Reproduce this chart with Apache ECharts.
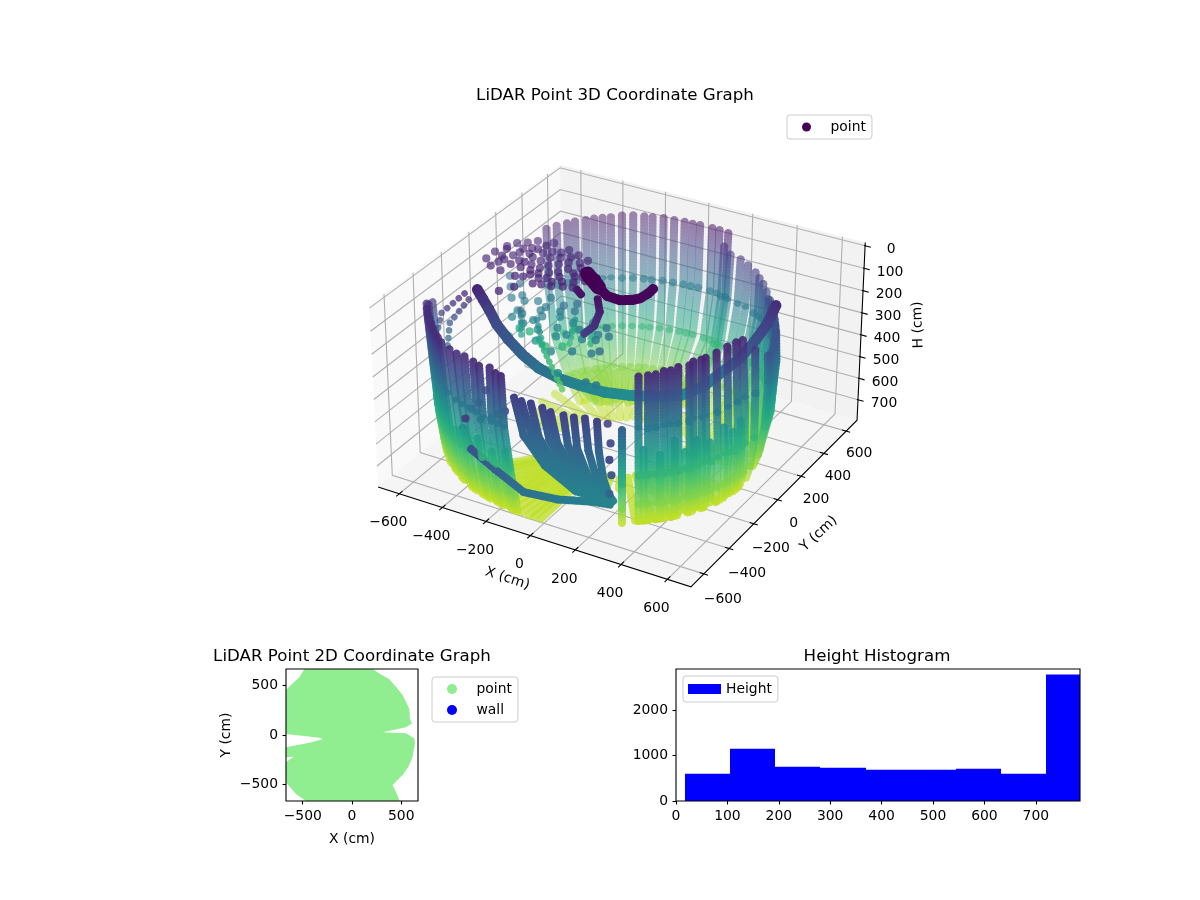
<!DOCTYPE html>
<html><head><meta charset="utf-8">
<style>html,body{margin:0;padding:0;background:#fff}#c{width:1200px;height:900px}</style>
<script src="https://cdn.jsdelivr.net/npm/echarts@6/dist/echarts.min.js"></script>
</head><body><div id="c"></div>
<script>
// ---------- data (cm) ----------
const xTicks=[-600,-400,-200,0,200,400,600];
const yTicks=[-600,-400,-200,0,200,400,600];
const hTicks=[0,100,200,300,400,500,600,700];
const xLim=[-700,700], yLim=[-700,700], hLim=[-14,796];
// wall scans: azimuth deg, top H, radius at top, radius at each of scanLevels
const scanLevels=[350,550,680,750];
const backScans=[[148,88,650,640,585,470,360],[144,84,650,640,590,475,365],[140,82,650,642,590,480,370],[137,80,652,640,592,480,370],[133,78,650,642,595,485,375],[130,76,652,644,592,485,380],[127,74,650,642,595,490,375],[124,72,648,644,596,490,380],[120,66,650,642,598,488,382],[116,66,652,644,596,492,380],[112,67,650,642,598,490,385],[109,68,650,640,596,494,380],[105,68,652,642,600,490,385],[101,69,650,640,596,492,382],[97,68,648,642,598,494,385],[94,70,650,640,600,490,380],[91,68,650,642,596,488,385],[86,66,650,640,598,490,380],[83,66,652,640,595,488,378],[79,64,650,638,592,486,375]];
const rightScans=[[80,125,640,625,585,500,400],[77,150,640,625,585,505,410],[72,150,640,628,590,510,420],[68,159,640,630,590,515,430],[63,165,635,630,592,520,440],[60,175,632,628,592,522,445],[57,185,630,625,592,525,450],[54,205,628,622,590,528,455],[52,226,625,620,590,530,460],[47,200,610,612,585,530,470],[45,205,608,612,585,532,474],[42,210,605,610,585,535,480],[40,212,604,608,585,537,484],[37,215,600,606,585,540,490],[35,218,600,606,585,542,494],[32,220,598,604,585,545,500],[30,220,598,604,586,547,504],[27,225,600,604,588,550,510],[25,225,600,604,588,552,514],[22,230,598,602,590,555,520],[20,230,598,602,590,557,524],[17,235,600,604,590,560,530],[13,240,600,604,592,565,540],[9,230,600,604,594,570,545],[0,160,585,590,590,575,555]];
const frontRightScans=[[-5.3,101,560,575,580,575,560],[-9.7,92,560,572,580,574,562],[-15,89,560,570,578,575,565],[-20.7,94,560,570,578,575,568],[-26,99,560,568,578,576,570],[-28,101,560,568,576,576,570],[-31.6,99,560,566,576,574,572],[-33.3,110,560,566,576,574,572],[-38,107,560,565,575,575,574],[-41,115,560,565,575,575,575],[-43.8,114,560,565,574,575,576],[-47,123,560,565,574,576,576],[-50,124,560,564,574,576,578],[-53.7,126,560,564,574,576,578]];
const frontLeftScans=[[-60,272,700,690,650,610,590],[-98.6,120,722,710,680,655,645],[-101.5,125,712,705,680,657,647],[-104.7,120,703,700,680,660,650],[-107.7,120,723,710,685,665,650],[-110.8,120,720,710,690,670,655],[-115,120,723,712,695,675,660],[-117.7,120,737,720,700,680,665],[-121,120,745,725,705,685,670],[-126,120,751,730,710,690,675],[-129,120,750,732,712,692,678],[-131.6,120,750,735,715,695,680],[-134.6,120,750,735,718,698,685],[-137.7,120,748,735,720,700,690],[-141,120,750,737,722,704,693],[-144,120,754,738,723,706,696],[-147,120,756,739,724,708,698],[-150,120,758,740,725,710,700],[-153,145,755,740,726,712,702],[-158,170,750,740,728,715,705]];
// return arms of the looped scans: azimuth, top H, radius at top, radius at H 550, 680, 750
const returnArms=[[-51.8,440,570,574,576,578],[-45.4,470,570,574,575,576],[-39.5,420,568,575,575,575],[-35,480,568,575,574,572],[-30,440,568,576,575,571],[-24,470,568,578,576,570],[-17,430,570,578,575,566],[-12,470,572,580,574,563],[-7.5,440,574,580,575,561],[-100,470,690,680,658,646],[-106,500,690,682,662,650],[-112,470,700,692,672,657],[-119,480,712,702,682,667],[-124,500,718,708,688,672],[-133,470,726,716,697,682],[-143,480,730,722,705,695]];
// scan pairs that join at the floor (azimuths)
const joinedScans=[[-53.7,-50],[-47,-43.8],[-41,-38],[-33.3,-31.6],[-28,-26],[-20.7,-15],[-9.7,-5.3],[-98.6,-101.5],[-104.7,-107.7],[-110.8,-115],[-117.7,-121],[-126,-129],[-131.6,-134.6],[-137.7,-141]];
// floor sweeps: azimuth deg, outer radius, inner radius, H
const floorSweeps=[[-130,670,300,745],[-128,665,300,748],[-125,660,300,745],[-122,655,290,750],[-118,650,280,748],[-115,650,275,750],[-112,650,270,750],[-109,645,265,752],[-106,640,260,750],[-103,640,255,748],[-100,640,250,752],[-97,640,250,750],[-94,640,250,752],[-91.5,640,245,748],[-89,640,240,750],[-82,350,240,752],[-76,340,240,750],[-70,340,250,748],[-62,340,250,750],[-55,575,250,750],[-48,575,240,748],[-41,575,250,752],[-34,572,250,750],[-27,570,260,750],[-20,568,260,748],[-12,560,260,750],[10,520,260,745],[20,510,260,748],[30,490,260,750],[40,470,260,750],[50,450,250,752],[60,440,240,750],[70,410,230,752],[85,380,200,755],[92,385,200,752],[100,385,200,755],[108,385,200,752],[115,382,200,755],[122,380,200,752],[130,378,200,755],[137,372,200,752],[145,365,210,755],[155,480,250,752],[165,460,250,750],[175,440,260,750],[185,420,260,748]];
// lower bowl of the back wall: azimuth deg, outer radius, inner radius, H
const bowlSweeps=[[81,470,230,690],[85,472,230,695],[88,474,225,688],[92,476,225,692],[96,474,225,690],[100,476,225,695],[103,474,225,688],[107,476,225,692],[110,474,225,690],[114,476,225,695],[118,474,225,688],[122,472,225,692],[126,470,225,690],[129,470,225,695],[132,468,225,688],[135,466,230,692],[139,462,230,690],[142,458,230,695],[146,455,235,688]];
// fan of scans sweeping to the front: shared H and colour value, then x,y pairs
const fanH=[180,420,560,620,640];
const fanV=[180,280,340,370,390];
const fanPaths=[[-38,-736,-77,-612,-13,-565,131,-580,265,-553],[0,-745,-50,-597,11,-551,148,-570,269,-551],[39,-742,-18,-597,38,-554,162,-563,269,-551],[92,-748,24,-590,69,-545,175,-555,272,-550],[134,-759,63,-596,101,-545,193,-554,272,-550],[188,-756,105,-590,133,-544,206,-546,272,-550],[229,-750,147,-592,165,-545,224,-544,275,-548],[268,-736,192,-585,196,-536,242,-543,275,-548],[318,-734,230,-572,228,-536,252,-538,279,-546]];
// rings and strands: [x, y, H, colour value]
const ringA=[[-538,-198,110,110],[-504,-210,140,140],[-471,-221,170,170],[-415,-255,205,205],[-346,-281,240,240],[-274,-295,280,280],[-203,-293,320,320],[-122,-277,350,350],[-53,-239,380,380],[43,-207,400,400],[131,-164,410,410],[221,-125,408,408],[310,-81,400,400],[380,-30,365,365],[425,33,320,320],[472,79,275,275],[499,140,230,230],[519,223,175,175],[513,312,130,130]];
const ringB=[[-400,-540,520,170],[-287,-657,520,220],[-158,-685,560,270],[-35,-685,620,320],[87,-638,640,350],[207,-587,640,370],[283,-569,640,380]];
const ringC=[[-106,-19,30,20],[-53,-81,30,25],[5,-119,30,28],[62,-123,30,30],[103,-99,30,32],[122,-71,30,35],[129,-20,30,38],[127,23,30,40]];
const ringF=[[-154,-1,30,20],[-53,-81,30,20]];
const ringD=[[-554,-265,100,110],[-648,-290,200,170],[-677,-279,290,270]];
const ringE=[[-544,-252,130,130],[-617,-281,240,230],[-617,-305,350,340]];
const spokeA=[[-100,-16,120,60],[-41,-101,120,90],[-3,-208,120,130],[-5,-282,120,170]];
const spokeB=[[-211,12,120,70],[-163,-24,120,60]];
const strands=[[[-441,-38,250,300],[-334,-206,250,480]],[[-343,-74,250,380],[-197,-264,250,520]],[[-214,1,250,430],[-132,-180,250,560]],[[-146,40,250,430],[-44,-176,250,560]],[[-254,-205,250,500],[30,-499,250,640]]];
// scattered returns: [x, y] at H 90; [x, y, colour value] at H 250; [x, y, H, colour value]
const looseHigh=[[-627,9],[-628,76],[-611,140],[-590,182],[-556,208],[-528,240],[-478,223],[-462,256],[-429,190],[-374,160],[-379,235],[-323,215],[-267,193],[-561,38],[-549,85],[-544,154],[-473,110],[-429,99],[-381,80],[-579,-34],[-525,-48],[-518,17],[-470,14],[-423,11],[-382,4],[-333,-14],[-321,54],[-326,143],[-263,73],[-450,-60],[-420,-49],[-357,-79],[-324,-69],[-283,-62],[-242,-43],[-244,53],[-406,-138],[-439,-197],[-600,120],[-585,60],[-570,10],[-540,120],[-515,175],[-505,60],[-500,130],[-490,180],[-455,160],[-445,55],[-410,140],[-400,45],[-395,200],[-352,110],[-348,30],[-340,185],[-300,95],[-295,20],[-285,160],[-260,125],[-235,100],[-225,10],[-215,65],[-205,-30],[-190,40],[-480,60],[-405,-20],[-360,-30],[-300,-30],[-265,-10]];
const looseMid=[[-630,186,300],[-579,109,320],[-526,31,340],[-468,35,360],[-450,-46,380],[-441,-102,380],[-376,-125,390],[-371,-1,350],[-390,110,320],[-277,-8,380],[-355,-83,390],[-367,32,340],[-312,79,300],[-273,117,280],[-206,-26,330],[-126,-58,340],[-138,13,300],[-209,-151,400],[-181,-120,380],[-72,4,310],[-74,-58,330],[-165,-263,390],[-55,-393,420],[-94,-222,350],[-21,-199,340],[-2,-169,300],[73,-401,360],[119,-402,350],[-560,150,300],[-500,70,330],[-420,60,340],[-340,-40,360],[-300,30,330],[-250,60,310],[-240,-90,370],[-160,-60,350],[-110,-120,370],[-60,-100,340],[-30,-50,320],[-420,-60,370],[-300,-140,400],[-260,-220,440]];
const looseLow=[[-368,-243,520],[-367,-166,500],[-319,-169,530],[-203,-240,560],[-147,-207,540]];
const looseFront=[[172,-407,400,170],[254,-526,400,190],[310,-631,400,200],[306,-609,480,230],[317,-644,540,280],[-336,-572,400,150],[-317,-644,400,150],[-262,-622,400,150],[-232,-595,400,150],[-224,-554,400,150],[-216,-522,400,150],[-363,-424,400,150],[-336,-518,400,150]];
// 2D footprint outline
const outlineX=[-483,210,277,379,446,514,581,588,608,548,311,548,632,639,615,575,514,412,446,480,485,-467,-568,-663,-670,-670,-592,-670,-670,-433,-297,-331,-670,-670,-585,-534];
const outlineY=[670,670,625,565,490,406,270,169,118,78,27,17,-34,-85,-220,-321,-406,-507,-575,-659,-670,-670,-598,-490,-490,-274,-220,-226,-125,-78,-44,-27,10,456,541,585];
const plan2dTicks=[-500,0,500];
// histogram
const binEdges=[17.5,105,192.6,280,370,457,545,632,720,807];
const binCounts=[603,1155,758,736,692,692,714,603,2789];
const histXTicks=[0,100,200,300,400,500,600,700];
const histYTicks=[0,1000,2000];

// ---------- matplotlib-style 3D view ----------
const font='DejaVu Sans', fs=13.9, ts=16.67;
const e=30*Math.PI/180, a=-60*Math.PI/180;
const w=[Math.cos(e)*Math.cos(a),Math.cos(e)*Math.sin(a),Math.sin(e)];
const nu=Math.hypot(w[1],w[0]);
const u=[-w[1]/nu,w[0]/nu,0];
const v=[w[1]*u[2]-w[2]*u[1],w[2]*u[0]-w[0]*u[2],w[0]*u[1]-w[1]*u[0]];
const halfXY=0.595, halfH=0.35, Sx=2997, Sy=2966, X0=622, Y0=364.6;
const hMid=(hLim[0]+hLim[1])/2, hHalf=(hLim[1]-hLim[0])/2;
function proj(x,y,h){
  const d=[x/700*halfXY,y/700*halfXY,(hMid-h)/hHalf*halfH];
  const dot=(p)=>p[0]*d[0]+p[1]*d[1]+p[2]*d[2];
  const depth=10-dot(w);
  return [dot(u)/depth,dot(v)/depth,depth];
}
const vir=['#440154','#482475','#414487','#355f8d','#2a788e','#21918c','#22a884','#44bf70','#7ad151','#bddf26','#fde725'];
const rgb=c=>[1,3,5].map(i=>parseInt(c.substr(i,2),16));
function colorOf(val){
  let t=Math.max(0,Math.min(1,(val-20)/810))*10, i=Math.min(9,Math.floor(t)), f=t-i;
  const A=rgb(vir[i]),B=rgb(vir[i+1]);
  return 'rgb('+A.map((q,k)=>Math.round(q+(B[k]-q)*f)).join(',')+')';
}
const marks=[];
function seg(p,q,lw,solid,gap){marks.push({p:proj(p[0],p[1],p[2]),q:proj(q[0],q[1],q[2]),vp:p[3],vq:q[3],lw:lw||8.3,solid:!!solid,gap:gap||3});}
function pol(t,r,h){const c=t*Math.PI/180;return [r*Math.cos(c),r*Math.sin(c),h,h];}
const scanBottom={};
[backScans,rightScans,frontRightScans,frontLeftScans].forEach(list=>list.forEach(s=>{
  let prev=pol(s[0],s[2],s[1]);
  scanLevels.forEach((h,i)=>{const n=pol(s[0],s[3+i],h);seg(prev,n);prev=n;});
  scanBottom[s[0]]=prev;
}));
returnArms.forEach(s=>{
  let prev=pol(s[0],s[2],s[1]);
  [550,680,750].forEach((h,i)=>{const n=pol(s[0],s[3+i],h);seg(prev,n);prev=n;});
});
joinedScans.forEach(j=>seg(scanBottom[j[0]],scanBottom[j[1]]));
floorSweeps.concat(bowlSweeps).forEach(f=>seg(pol(f[0],f[1],f[3]),pol(f[0],f[2],f[3])));
function path(list,lw,solid,gap){for(let i=0;i<list.length-1;i++)seg(list[i],list[i+1],lw,solid,gap);}
fanPaths.forEach(f=>{
  const pts=fanH.map((h,i)=>[f[2*i],f[2*i+1],h,fanV[i]]);
  path(pts,8,true,2.5);
});
path(ringA,11,true,2.5);path(ringB,8,true,2.5);path(ringC,10,true,2);path(ringF,15,true,2);path(ringD,6.5,false,7.5);path(ringE,6.5,false,7.5);path(spokeA,8,true,3);path(spokeB,8,true,3);
strands.forEach(s=>path(s,6.5,false,6));
const dot=(x,y,h,c)=>seg([x,y,h,c],[x,y,h,c]);
looseHigh.forEach(d=>dot(d[0],d[1],90,100));
looseMid.forEach(d=>dot(d[0],d[1],250,d[2]));
looseLow.forEach(d=>dot(d[0],d[1],250,d[2]));
looseFront.forEach(d=>dot(d[0],d[1],d[2],d[3]));
marks.forEach(m=>m.d=(m.p[2]+m.q[2])/2);
marks.sort((s,t)=>t.d-s.d);
const dMin=marks[marks.length-1].d, dMax=marks[0].d;
marks.forEach(m=>m.alpha=m.solid?1:Math.max(.5,1-(m.d-dMin)/(dMax-dMin)*.55));

// box, grid, ticks
const [xa,xb]=xLim,[ya,yb]=yLim,ht=hLim[0],hb=hLim[1];
const P=(x,y,h)=>proj(x,y,h).slice(0,2);
const panes=[
 {pts:[P(xa,ya,hb),P(xa,yb,hb),P(xa,yb,ht),P(xa,ya,ht)],fill:'#f9f9f9'},
 {pts:[P(xa,yb,hb),P(xb,yb,hb),P(xb,yb,ht),P(xa,yb,ht)],fill:'#f2f2f2'},
 {pts:[P(xa,ya,hb),P(xb,ya,hb),P(xb,yb,hb),P(xa,yb,hb)],fill:'#f5f5f5'}];
const guides=[];
xTicks.forEach(t=>guides.push({pts:[P(t,ya,hb),P(t,yb,hb),P(t,yb,ht)],c:'#b0b0b0'}));
yTicks.forEach(t=>guides.push({pts:[P(xb,t,hb),P(xa,t,hb),P(xa,t,ht)],c:'#b0b0b0'}));
hTicks.forEach(t=>guides.push({pts:[P(xa,ya,t),P(xa,yb,t),P(xb,yb,t)],c:'#b0b0b0'}));
guides.push({pts:[P(xa,ya,hb),P(xb,ya,hb),P(xb,yb,hb),P(xb,yb,ht)],c:'#000'});
xTicks.forEach(t=>guides.push({pts:[P(t,ya-22,hb),P(t,ya+22,hb)],c:'#000'}));
yTicks.forEach(t=>guides.push({pts:[P(xb-18,t,hb),P(xb+18,t,hb)],c:'#000'}));
hTicks.forEach(t=>guides.push({pts:[P(xb-5,yb,t),P(xb+25,yb,t)],c:'#000'}));
const minus=s=>String(s).replace('-','\u2212');
const texts=[];
xTicks.forEach(t=>texts.push({t:minus(t),at:P(t,ya,hb),dx:-11,dy:29,rot:0}));
yTicks.forEach(t=>texts.push({t:minus(t),at:P(xb,t,hb),dx:16-t/200,dy:24-t/300,rot:0}));
hTicks.forEach(t=>texts.push({t:minus(t),at:P(xb,yb,t),dx:26,dy:4,rot:0}));
texts.push({t:'X (cm)',at:P(0,ya,hb),dx:-23,dy:43,rot:-18*Math.PI/180});
texts.push({t:'Y (cm)',at:P(xb,0,hb),dx:41,dy:34,rot:43*Math.PI/180});
texts.push({t:'H (cm)',at:P(xb,yb,hMid),dx:57,dy:-8,rot:92*Math.PI/180});

const valueAxis=(grid,min,max,ticks,extra)=>Object.assign({
  type:'value',gridIndex:grid,min,max,
  splitLine:{show:false},
  axisLine:{show:false,onZero:false},
  axisTick:{show:true,length:3.5,customValues:ticks,lineStyle:{color:'#000',width:1.1}},
  axisLabel:{customValues:ticks,margin:8,color:'#000',fontSize:fs,fontFamily:font,formatter:minus,hideOverlap:false}
},extra||{});
const hidden=(grid,min,max)=>({type:'value',gridIndex:grid,min,max,show:false,splitLine:{show:false}});
const box=(l,t,w,h)=>({left:l,top:t,width:w,height:h,show:false});
const legendBase={orient:'vertical',selectedMode:false,borderColor:'#ccc',borderWidth:1,borderRadius:3,backgroundColor:'rgba(255,255,255,0.8)',textStyle:{color:'#000',fontSize:fs,fontFamily:font}};
const titleBase={fontFamily:font,fontSize:ts,fontWeight:'normal',color:'#000'};
const frame=(i)=>({type:'custom',name:'frame'+i,silent:true,z:10,xAxisIndex:i,yAxisIndex:i,data:[[0]],
  renderItem:(p)=>({type:'rect',shape:{x:p.coordSys.x,y:p.coordSys.y,width:p.coordSys.width,height:p.coordSys.height},style:{fill:'none',stroke:'#000',lineWidth:1.1}})});

const option={
 animation:false,backgroundColor:'#fff',
 title:[
  {text:'LiDAR Point 3D Coordinate Graph',left:615,top:87.5,textAlign:'center',padding:0,textStyle:titleBase},
  {text:'LiDAR Point 2D Coordinate Graph',left:352,top:648,textAlign:'center',padding:0,textStyle:titleBase},
  {text:'Height Histogram',left:877,top:648,textAlign:'center',padding:0,textStyle:titleBase}],
 grid:[{left:0,right:0,top:0,bottom:0},box(286,669,132,132),box(676,669,404,132)],
 xAxis:[hidden(0,-X0/Sx,(1200-X0)/Sx),
  valueAxis(1,-670,670,plan2dTicks,{name:'X (cm)',nameLocation:'middle',nameGap:31,nameTextStyle:{color:'#000',fontSize:fs,fontFamily:font}}),
  valueAxis(2,0,786,histXTicks)],
 yAxis:[hidden(0,(Y0-900)/Sy,Y0/Sy),
  valueAxis(1,-670,670,plan2dTicks,{name:'Y (cm)',nameLocation:'middle',nameGap:53,nameTextStyle:{color:'#000',fontSize:fs,fontFamily:font}}),
  valueAxis(2,0,2913,histYTicks)],
 legend:[
  Object.assign({},legendBase,{left:787,top:115,padding:[5,6,5,15],itemWidth:38,itemHeight:9,data:[{name:'point',icon:'circle',itemStyle:{color:'#440154'}}]}),
  Object.assign({},legendBase,{left:432,top:677,padding:[5,6,5,15],itemWidth:39,itemHeight:10,itemGap:7,data:[{name:'point',icon:'circle',itemStyle:{color:'#90EE90'}},{name:'wall',icon:'circle',itemStyle:{color:'#0000FF',opacity:1}}]}),
  Object.assign({},legendBase,{left:683,top:676,padding:[6,6,6,5],itemWidth:33,itemHeight:10,data:[{name:'Height',icon:'rect',itemStyle:{color:'#0000FF'}}]})],
 series:[
  {type:'custom',name:'panes',silent:true,z:1,xAxisIndex:0,yAxisIndex:0,data:panes.map((_,i)=>[i]),
   renderItem:(p,api)=>({type:'polygon',shape:{points:panes[p.dataIndex].pts.map(q=>api.coord(q))},style:{fill:panes[p.dataIndex].fill}})},
  {type:'custom',name:'guides',silent:true,z:2,xAxisIndex:0,yAxisIndex:0,data:guides.map((_,i)=>[i]),
   renderItem:(p,api)=>({type:'polyline',shape:{points:guides[p.dataIndex].pts.map(q=>api.coord(q))},style:{fill:'none',stroke:guides[p.dataIndex].c,lineWidth:1.1}})},
  {type:'custom',name:'point',silent:true,z:3,progressive:0,xAxisIndex:0,yAxisIndex:0,itemStyle:{color:'#440154'},data:marks.map((_,i)=>[i]),
   renderItem:(p,api)=>{
     const m=marks[p.dataIndex],s=api.coord(m.p),t=api.coord(m.q);
     if(s[0]===t[0]&&s[1]===t[1]) return {type:'circle',shape:{cx:s[0],cy:s[1],r:4.1},style:{fill:colorOf(m.vp),opacity:m.alpha}};
     const stops=[0,.25,.5,.75,1].map(k=>({offset:k,color:colorOf(m.vp+(m.vq-m.vp)*k)}));
     return {type:'line',shape:{x1:s[0],y1:s[1],x2:t[0],y2:t[1]},style:{
       stroke:new echarts.graphic.LinearGradient(s[0],s[1],t[0]+.01,t[1]+.01,stops,true),
       lineWidth:m.lw,lineCap:'round',lineDash:[.1,m.gap],opacity:m.alpha}};
   }},
  {type:'custom',name:'labels',silent:true,z:4,xAxisIndex:0,yAxisIndex:0,data:texts.map((_,i)=>[i]),
   renderItem:(p,api)=>{const q=texts[p.dataIndex],c=api.coord(q.at);
     return {type:'text',x:c[0]+q.dx,y:c[1]+q.dy,rotation:q.rot,style:{text:q.t,fill:'#000',fontSize:fs,fontFamily:font,textAlign:'center',textVerticalAlign:'middle'}};}},
  {type:'custom',name:'point',silent:true,clip:true,xAxisIndex:1,yAxisIndex:1,itemStyle:{color:'#90EE90'},data:[[0]],
   renderItem:(p,api)=>({type:'polygon',shape:{points:outlineX.map((x,i)=>api.coord([x,outlineY[i]]))},style:{fill:'#90EE90'}})},
  {type:'scatter',name:'wall',xAxisIndex:1,yAxisIndex:1,itemStyle:{color:'#0000FF',opacity:1},data:[]},
  {type:'custom',name:'Height',silent:true,clip:true,xAxisIndex:2,yAxisIndex:2,itemStyle:{color:'#0000FF'},data:binCounts.map((_,i)=>[i]),
   renderItem:(p,api)=>{const i=p.dataIndex,s=api.coord([binEdges[i],binCounts[i]]),t=api.coord([binEdges[i+1],0]);
     const x0=Math.round(s[0]),x1=Math.min(Math.round(t[0]),p.coordSys.x+p.coordSys.width);
     return {type:'rect',shape:{x:x0,y:s[1],width:x1-x0,height:t[1]-s[1]},style:{fill:'#0000FF'}};}},
  frame(1),frame(2)
 ]
};
echarts.init(document.getElementById('c')).setOption(option);
</script></body></html>
